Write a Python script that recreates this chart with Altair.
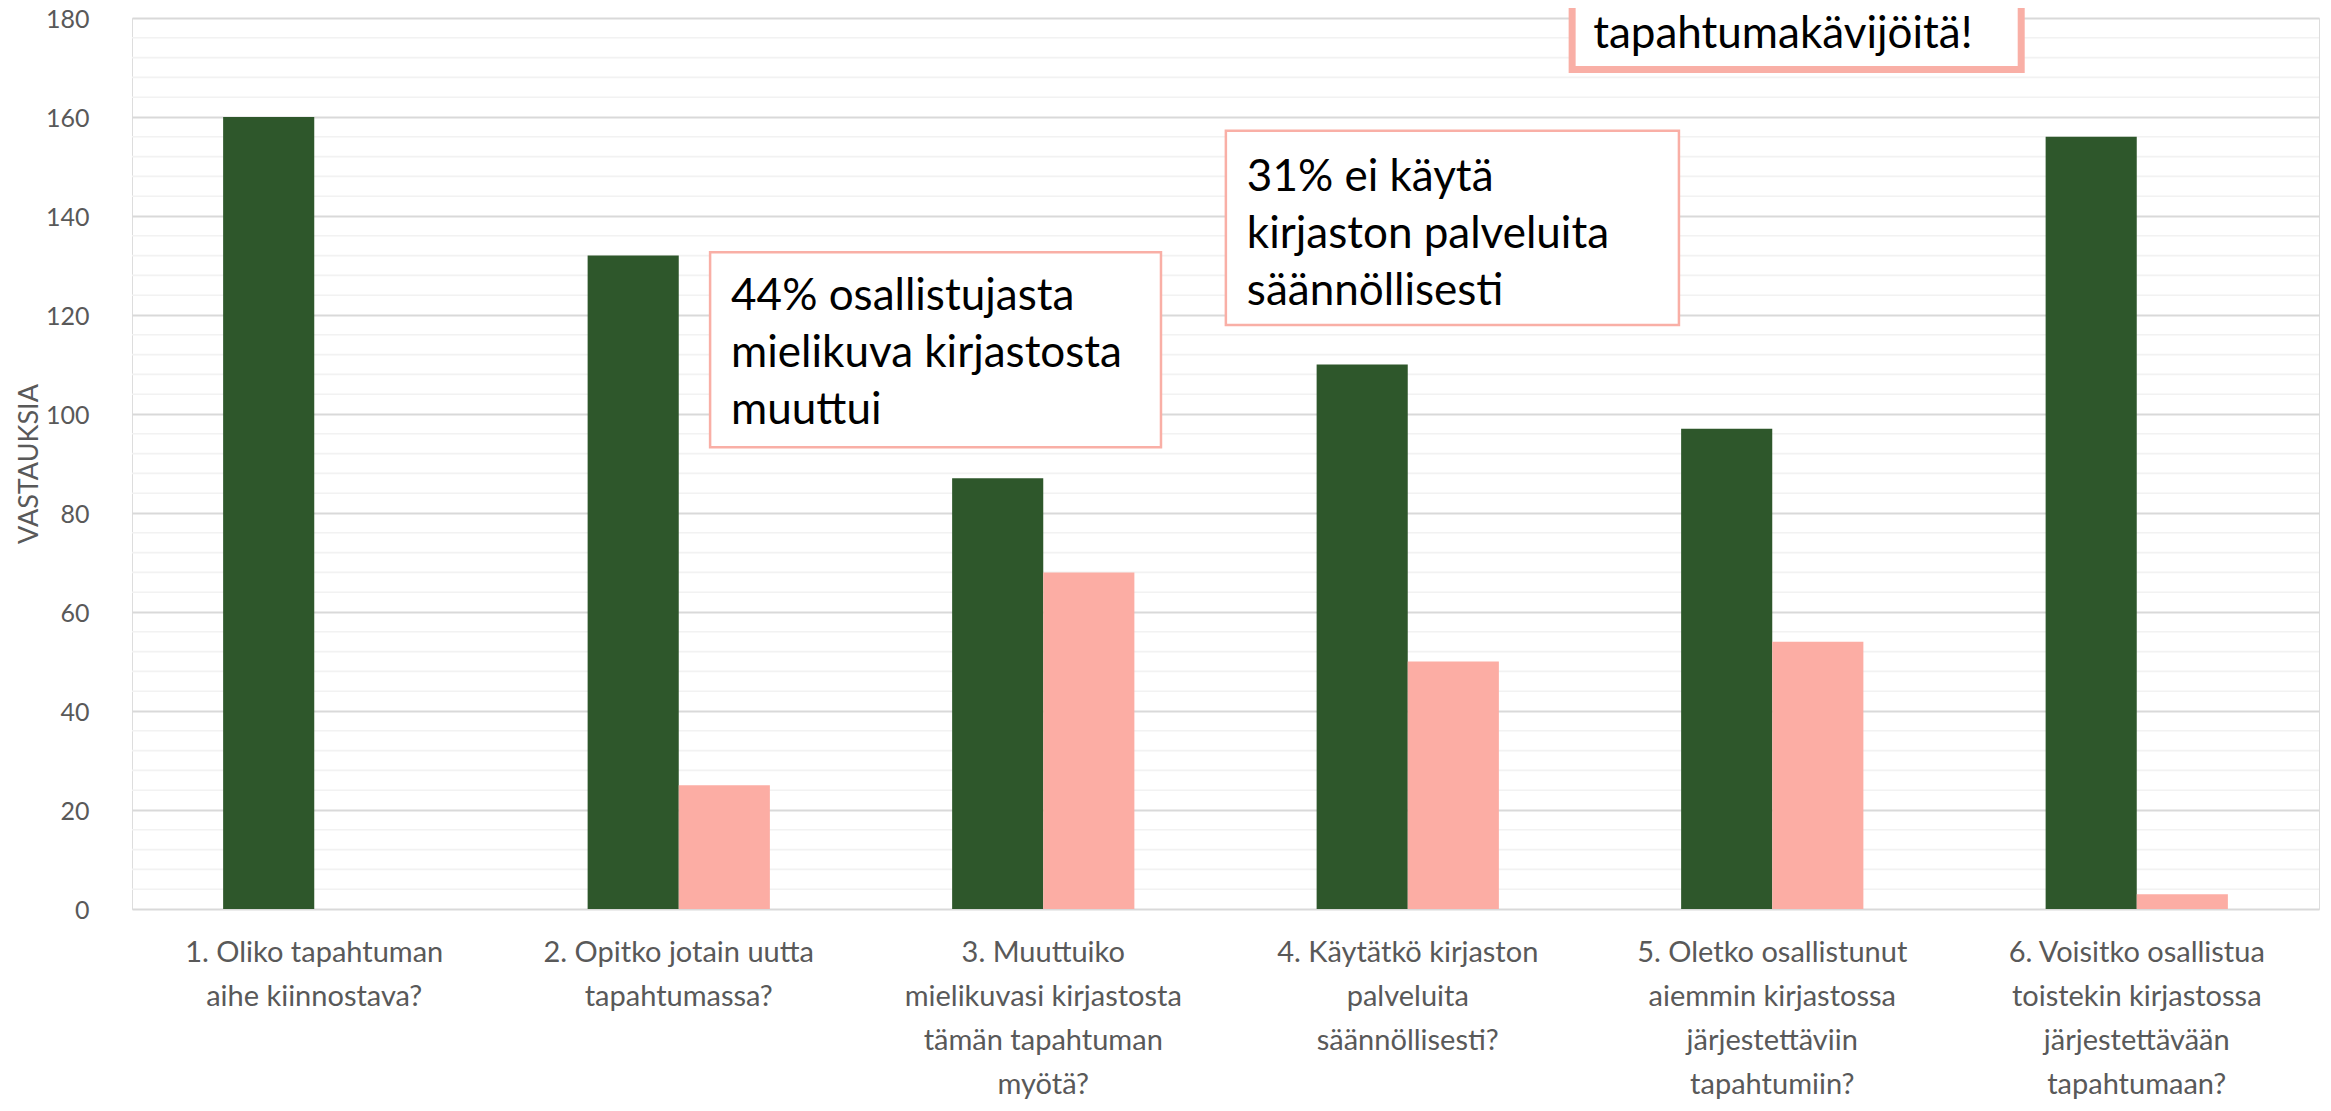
import altair as alt
import pandas as pd

# ---- data ----
categories = [
    "1. Oliko tapahtuman|aihe kiinnostava?",
    "2. Opitko jotain uutta|tapahtumassa?",
    "3. Muuttuiko|mielikuvasi kirjastosta|tämän tapahtuman|myötä?",
    "4. Käytätkö kirjaston|palveluita|säännöllisesti?",
    "5. Oletko osallistunut|aiemmin kirjastossa|järjestettäviin|tapahtumiin?",
    "6. Voisitko osallistua|toistekin kirjastossa|järjestettävään|tapahtumaan?",
]
series_names = ["Kyllä", "Ei"]
yes_values = [160, 132, 87, 110, 97, 156]
no_values = [0, 25, 68, 50, 54, 3]

y_ticks = [0, 20, 40, 60, 80, 100, 120, 140, 160, 180]
minor_grid = [v for v in range(4, 180, 4) if v % 20 != 0]

# annotation boxes (x in category units 0..6, y in data units)
box_x0 = [1.586, 3.001, 3.951]
box_x1 = [2.823, 4.244, 5.183]
box_y0 = [93.3, 118.0, 169.6]
box_y1 = [132.7, 157.2, 195.0]
box_sw = [2.5, 2.5, 7]
box_text = [
    "44% osallistujasta|mielikuva kirjastosta|muuttui",
    "31% ei käytä|kirjaston palveluita|säännöllisesti",
    "tapahtumakävijöitä!",
]
box_text_y = [123.6, 147.7, 176.6]  # first text line of each box

GREEN = "#2E572B"
PINK = "#FCADA4"
BORDER = "#F9AFA6"
GRAY = "#595959"
FONT = "Lato"

rows = []
for c, yv, nv in zip(categories, yes_values, no_values):
    rows.append({"cat": c, "series": series_names[0], "value": yv})
    rows.append({"cat": c, "series": series_names[1], "value": nv})
bars_df = pd.DataFrame(rows)

grid_df = pd.DataFrame({"v": minor_grid})
box_df = pd.DataFrame({
    "x0": box_x0, "x1": box_x1, "y0": box_y0, "y1": box_y1,
    "sw": box_sw, "txt": box_text, "ty": box_text_y,
})

yscale = alt.Scale(domain=[0, 180], nice=False, zero=True)
y_axis = alt.Axis(
    values=y_ticks,
    title="VASTAUKSIA",
    titleFont=FONT,
    titleFontSize=27,
    titleFontWeight="normal",
    titleColor=GRAY,
    titleX=-103,
    titleBaseline="middle",
    labelFont=FONT,
    labelFontSize=25,
    labelColor=GRAY,
    labelPadding=43,
    labelOffset=1,
    ticks=False,
    domain=False,
    grid=True,
    gridColor="#D9D9D9",
    gridWidth=2,
)

minor = alt.Chart(grid_df).mark_rule(color="#F2F2F2", strokeWidth=1.6).encode(
    y=alt.Y("v:Q", scale=yscale, axis=y_axis)
)

bars = alt.Chart(bars_df).mark_bar().encode(
    x=alt.X(
        "cat:N",
        sort=categories,
        scale=alt.Scale(paddingInner=0.5, paddingOuter=0.25),
        axis=alt.Axis(
            title=None,
            labelAngle=0,
            labelExpr="split(datum.label, '|')",
            labelFont=FONT,
            labelFontSize=29,
            labelLineHeight=44,
            labelColor=GRAY,
            labelPadding=29,
            labelLimit=0,
            labelOverlap=False,
            labelBaseline="top",
            ticks=False,
            domain=False,
            grid=False,
        ),
    ),
    xOffset=alt.XOffset("series:N", sort=series_names,
                        scale=alt.Scale(paddingInner=0, paddingOuter=0)),
    y=alt.Y("value:Q", scale=yscale, axis=y_axis),
    color=alt.Color("series:N", sort=series_names,
                    scale=alt.Scale(domain=series_names, range=[GREEN, PINK]),
                    legend=None),
)

xq = alt.Scale(domain=[0, 6], nice=False, zero=False)

boxes = alt.Chart(box_df).mark_rect(fill="white", stroke=BORDER).encode(
    x=alt.X("x0:Q", scale=xq, axis=None),
    x2="x1:Q",
    y=alt.Y("y0:Q", scale=yscale, axis=y_axis),
    y2="y1:Q",
    strokeWidth=alt.StrokeWidth("sw:Q", scale=None),
)

texts = alt.Chart(box_df).transform_calculate(
    lines="split(datum.txt, '|')"
).mark_text(
    align="left", baseline="middle", dx=21, font=FONT, fontSize=44,
    lineHeight=57, color="black"
).encode(
    x=alt.X("x0:Q", scale=xq, axis=None),
    y=alt.Y("ty:Q", scale=yscale, axis=y_axis),
    text=alt.Text("lines:N"),
)

annot = alt.layer(boxes, texts)

chart = alt.layer(minor, bars, annot).resolve_scale(x="independent").properties(
    width=2187,
    height=891,
    padding={"left": 124, "top": 10, "right": 4, "bottom": 194},
    autosize=alt.AutoSizeParams(type="none"),
).configure_view(strokeWidth=0).configure(background="white")

chart.save("out.html", embed_options={"renderer": "svg", "actions": False})
